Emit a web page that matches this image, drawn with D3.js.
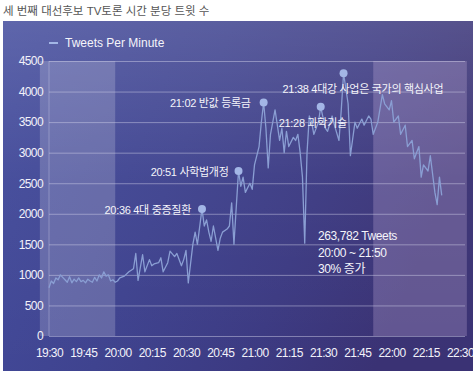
<!DOCTYPE html>
<html>
<head>
<meta charset="utf-8">
<script src="https://cdn.jsdelivr.net/npm/d3@7"></script>
<style>
  body { margin: 0; background: #fff; }
  svg { display: block; font-family: "Liberation Sans", "Noto Sans CJK KR", sans-serif; }
</style>
</head>
<body>
<div id="chart"></div>
<script>
// 분당 트윗 수 (19:30 ~ 22:22)
var times = ["19:30","19:31","19:32","19:33","19:34","19:35","19:36","19:37","19:38","19:39",
  "19:40","19:41","19:42","19:43","19:44","19:45","19:46","19:47","19:48","19:49",
  "19:50","19:51","19:52","19:53","19:54","19:55","19:56","19:57","19:58","19:59",
  "20:00","20:01","20:03","20:05","20:07","20:08","20:09","20:11","20:12","20:14",
  "20:15","20:16","20:18","20:19","20:20","20:22","20:23","20:25","20:26","20:28",
  "20:29","20:30","20:31","20:33","20:34","20:35","20:37","20:38","20:39","20:40",
  "20:41","20:42","20:44","20:45","20:46","20:48","20:49","20:50","20:51","20:53",
  "20:54","20:55","20:56","20:58","20:59","21:00","21:02","21:03","21:04","21:05",
  "21:06","21:07","21:08","21:09","21:11","21:12","21:13","21:14","21:15","21:17",
  "21:18","21:19","21:20","21:21","21:22","21:23","21:24","21:25","21:26","21:28",
  "21:29","21:31","21:32","21:34","21:35","21:37","21:38","21:39","21:41","21:42",
  "21:44","21:45","21:47","21:48","21:50","21:51","21:52","21:54","21:56","21:57",
  "21:59","22:00","22:01","22:03","22:04","22:06","22:07","22:09","22:10","22:12",
  "22:13","22:14","22:16","22:17","22:19","22:20","22:21","22:22"];
var tweets = [790,900,860,950,920,1000,960,920,880,970,
  870,930,890,950,890,910,870,930,900,880,
  960,900,1000,950,1050,980,1000,900,920,880,
  900,950,980,1050,1100,1350,910,1330,1050,1250,
  1150,1180,1200,1280,1050,1200,1390,1300,1350,1150,
  1250,1400,870,1500,1700,1500,2080,1800,1900,1700,
  1550,1800,1400,1600,1700,1750,1800,2180,1500,2700,
  2450,2600,2350,2500,2400,2800,3100,3500,3820,3400,
  2750,3300,3500,3700,3200,3400,3000,3350,3100,3250,
  3200,3300,3000,2600,1520,3000,3600,3500,3300,3500,
  3750,3400,3350,3600,3450,3200,3700,4300,3800,2950,
  3500,3400,3550,3450,3600,3550,3300,3500,3950,3800,
  3700,3850,3500,3600,3300,3450,3100,3200,2900,3100,
  2600,2800,2700,2950,2350,2150,2600,2300];

// 주요 발언 시점
var noteTimes = ["20:37","20:53","21:04","21:29","21:39"];
var noteTexts = ["20:36 4대 중증질환","20:51 사학법개정","21:02 반값 등록금","21:28 과학기술","21:38 4대강 사업은 국가의 핵심사업"];

// 음영 구간
var bandStarts = ["19:26","21:52"];
var bandEnds = ["19:59","22:33"];

var yTicks = [0,500,1000,1500,2000,2500,3000,3500,4000,4500];
var summaryLines = ["263,782 Tweets","20:00 ~ 21:50","30% 증가"];
var seriesName = "Tweets Per Minute";
var title = "세 번째 대선후보 TV토론 시간 분당 트윗 수";

var width = 473, height = 371;
var parse = d3.timeParse("%H:%M");

var svg = d3.select("#chart").append("svg")
  .attr("width", width)
  .attr("height", height);

var defs = svg.append("defs");
var bg = defs.append("linearGradient").attr("id", "bg")
  .attr("x1", "0%").attr("y1", "0%").attr("x2", "100%").attr("y2", "30%");
bg.append("stop").attr("offset", "0%").attr("stop-color", "#444d9e");
bg.append("stop").attr("offset", "45%").attr("stop-color", "#3f438f");
bg.append("stop").attr("offset", "75%").attr("stop-color", "#3c3a82");
bg.append("stop").attr("offset", "100%").attr("stop-color", "#3a3274");
var glow = defs.append("linearGradient").attr("id", "glow")
  .attr("x1", "0%").attr("y1", "0%").attr("x2", "0%").attr("y2", "100%");
glow.append("stop").attr("offset", "0%").attr("stop-color", "#fff").attr("stop-opacity", 0.14);
glow.append("stop").attr("offset", "45%").attr("stop-color", "#fff").attr("stop-opacity", 0.03);
glow.append("stop").attr("offset", "100%").attr("stop-color", "#fff").attr("stop-opacity", 0);

svg.append("text")
  .attr("x", 3)
  .attr("y", 15)
  .style("font-size", "11.5px")
  .style("fill", "#555")
  .text(title);

svg.append("rect")
  .attr("x", 3).attr("y", 21)
  .attr("width", width - 3).attr("height", height - 21)
  .attr("fill", "url(#bg)");
svg.append("rect")
  .attr("x", 3).attr("y", 21)
  .attr("width", width - 3).attr("height", height - 21)
  .attr("fill", "url(#glow)");

var x = d3.scaleTime()
  .domain([parse("19:30"), parse("22:30")])
  .range([49, 460]);
var y = d3.scaleLinear()
  .domain([0, 4500])
  .range([336, 61]);
var gridRight = 465;

// 음영 구간
svg.selectAll("rect.band")
  .data(bandStarts)
  .enter().append("rect")
  .attr("class", "band")
  .attr("x", function (d) { return x(parse(d)); })
  .attr("y", y(4500))
  .attr("width", function (d, i) { return x(parse(bandEnds[i])) - x(parse(d)); })
  .attr("height", y(0) - y(4500))
  .attr("fill", function (d, i) { return i == 0 ? "#ffffff" : "#e2c8ee"; })
  .attr("fill-opacity", function (d, i) { return i == 0 ? 0.19 : 0.24; });

// y축 + 그리드
var yAxis = svg.append("g")
  .attr("transform", "translate(49,0)")
  .call(d3.axisLeft(y).tickValues(yTicks).tickFormat(d3.format("d")).tickSize(-(gridRight - 49)).tickPadding(6));
yAxis.select(".domain").remove();
yAxis.selectAll("line")
  .attr("stroke", "#d6d8ee")
  .attr("stroke-opacity", 0.45);
yAxis.selectAll("text")
  .style("font-size", "12px")
  .style("letter-spacing", "-0.6px")
  .style("fill", "#f2f2fa")
  .style("font-family", "'Liberation Sans', sans-serif");

svg.append("line")
  .attr("x1", 49).attr("x2", 49)
  .attr("y1", y(4500)).attr("y2", y(0))
  .attr("stroke", "#d6d8ee")
  .attr("stroke-opacity", 0.35);

// x축
var xAxis = svg.append("g")
  .attr("transform", "translate(0," + y(0) + ")")
  .call(d3.axisBottom(x).ticks(d3.timeMinute.every(15)).tickFormat(d3.timeFormat("%H:%M")).tickSize(0).tickPadding(12.5));
xAxis.select(".domain").remove();
xAxis.selectAll("text")
  .style("font-size", "12px")
  .style("letter-spacing", "-0.6px")
  .style("fill", "#f2f2fa")
  .style("font-family", "'Liberation Sans', sans-serif");

// 트윗 라인
var series = times.map(function (t, i) { return { t: parse(t), v: tweets[i] }; });
var line = d3.line()
  .x(function (d) { return x(d.t); })
  .y(function (d) { return y(d.v); });
svg.append("path")
  .datum(series)
  .attr("d", line)
  .attr("fill", "none")
  .attr("stroke", "#8a9ed3")
  .attr("stroke-width", 1.3)
  .attr("stroke-linejoin", "round");

// 주석 점과 텍스트
var noteLayout = [
  { dx: -11, dy: 5, anchor: "end" },
  { dx: -10, dy: 5, anchor: "end" },
  { dx: -13, dy: 4, anchor: "end" },
  { dx: -42, dy: 20, anchor: "start" },
  { dx: -61, dy: 20, anchor: "start" }
];
noteTimes.forEach(function (t, i) {
  var v = tweets[times.indexOf(t)];
  var cx = x(parse(t)), cy = y(v);
  svg.append("circle")
    .attr("cx", cx).attr("cy", cy).attr("r", 4)
    .attr("fill", "#a3b6e6");
  svg.append("text")
    .attr("x", cx + noteLayout[i].dx)
    .attr("y", cy + noteLayout[i].dy)
    .attr("text-anchor", noteLayout[i].anchor)
    .style("font-size", "11px")
    .style("letter-spacing", "-0.3px")
    .style("fill", "#f4f4fa")
    .text(noteTexts[i]);
});

// 요약
svg.selectAll("text.summary")
  .data(summaryLines)
  .enter().append("text")
  .attr("class", "summary")
  .attr("x", 318)
  .attr("y", function (d, i) { return 240 + i * 16.5; })
  .style("font-size", "12px")
  .style("letter-spacing", "-0.4px")
  .style("fill", "#f4f4fa")
  .text(function (d) { return d; });

// 범례
svg.append("line")
  .attr("x1", 49).attr("x2", 58)
  .attr("y1", 43).attr("y2", 43)
  .attr("stroke", "#a3b6e6")
  .attr("stroke-width", 2);
svg.append("text")
  .attr("x", 65)
  .attr("y", 47)
  .style("font-size", "12px")
  .style("fill", "#f4f4fa")
  .text(seriesName);
</script>
</body>
</html>
